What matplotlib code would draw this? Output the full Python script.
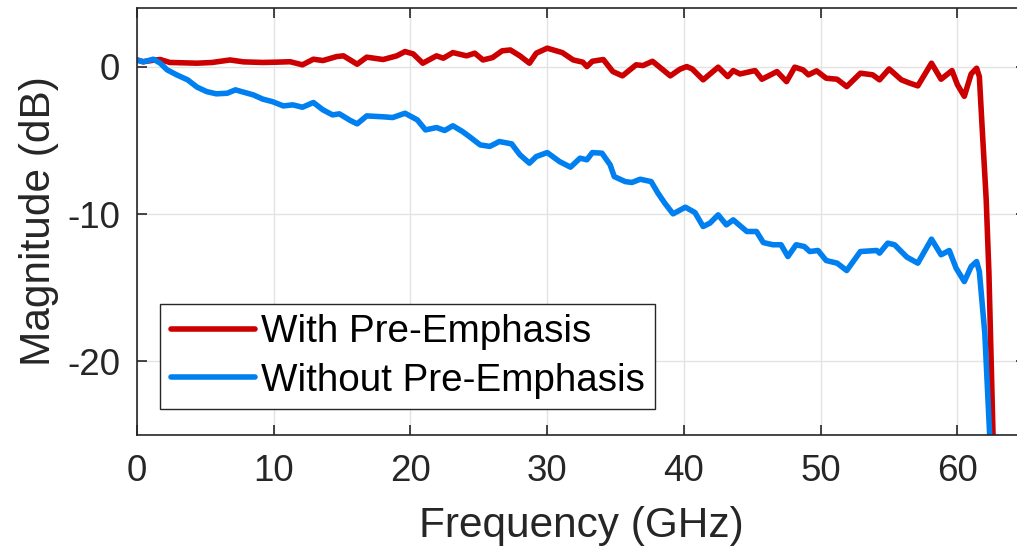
import numpy as np
import matplotlib
matplotlib.use("Agg")
import matplotlib.pyplot as plt

# Frequency response (GHz, dB)
freq_with = [0, 0.45, 1.2, 1.7, 2.4, 3.2, 4.4, 5.5, 6.8, 7.8, 9.2, 10.2, 11.2, 12.1, 12.9,
             13.6, 14.6, 15.1, 16.1, 16.8, 18.0, 19.0, 19.6, 20.2, 20.9, 21.9, 22.4, 23.1,
             24.1, 24.7, 25.3, 26.0, 26.7, 27.3, 28.0, 28.7, 29.2, 30.0, 31.1, 31.9, 32.6,
             32.9, 33.3, 34.1, 34.8, 35.5, 36.5, 37.0, 37.7, 39.0, 39.7, 40.2, 40.6, 41.4,
             42.5, 43.2, 43.6, 44.1, 45.2, 45.7, 46.8, 47.5, 48.1, 48.7, 49.1, 49.7, 50.4,
             51.2, 51.9, 52.9, 53.8, 54.3, 55.0, 55.9, 56.5, 57.1, 58.1, 58.8, 59.6, 60.0,
             60.5, 61.0, 61.4, 61.6, 61.8, 62.1, 62.3, 62.6, 62.7]
mag_with = [0.47, 0.35, 0.45, 0.5, 0.3, 0.28, 0.25, 0.3, 0.47, 0.34, 0.3, 0.32, 0.35, 0.14, 0.52,
            0.43, 0.7, 0.75, 0.18, 0.66, 0.5, 0.75, 1.04, 0.88, 0.25, 0.75, 0.59, 0.97,
            0.75, 0.93, 0.47, 0.63, 1.09, 1.15, 0.75, 0.25, 0.93, 1.27, 0.97, 0.47, 0.32,
            0.02, 0.38, 0.5, -0.32, -0.61, 0.14, 0.09, 0.38, -0.61, -0.16, 0.02, -0.14, -0.88,
            -0.02, -0.66, -0.25, -0.48, -0.25, -0.84, -0.32, -1.0, -0.02, -0.2, -0.54, -0.27, -0.77,
            -0.84, -1.34, -0.43, -0.54, -0.88, -0.14, -0.88, -1.1, -1.29, 0.25, -0.84, -0.25, -1.22,
            -2.0, -0.48, -0.09, -0.66, -4.05, -9.0, -14.0, -25.0, -28.0]

freq_without = [0, 0.45, 1.2, 1.7, 2.2, 2.9, 3.7, 4.4, 5.1, 5.8, 6.6, 7.2, 7.8, 8.5, 9.2,
                9.9, 10.7, 11.4, 12.1, 12.9, 13.6, 14.3, 14.8, 15.6, 16.1, 16.8, 18.0, 18.7,
                19.6, 20.5, 21.1, 21.9, 22.5, 23.1, 23.8, 24.3, 25.1, 25.8, 26.5, 27.4, 28.0,
                28.7, 29.2, 30.0, 30.9, 31.7, 32.4, 32.9, 33.3, 34.0, 34.6, 34.9, 35.7, 36.2,
                36.8, 37.6, 38.1, 38.6, 39.2, 40.1, 40.8, 41.4, 41.9, 42.5, 43.1, 43.6, 44.6,
                45.3, 45.8, 46.5, 47.1, 47.6, 48.2, 48.8, 49.2, 49.8, 50.4, 51.2, 51.9, 52.9,
                54.1, 54.3, 54.9, 55.4, 56.3, 57.1, 58.1, 58.8, 59.4, 59.9, 60.5, 61.0, 61.4,
                61.6, 62.0, 62.35, 62.5]
mag_without = [0.47, 0.34, 0.52, 0.25, -0.2, -0.54, -0.88, -1.38, -1.68, -1.83, -1.79, -1.56, -1.72, -1.9, -2.19,
               -2.36, -2.65, -2.58, -2.74, -2.42, -2.92, -3.26, -3.19, -3.64, -3.87, -3.33, -3.39, -3.44,
               -3.15, -3.6, -4.28, -4.12, -4.32, -4.0, -4.39, -4.73, -5.3, -5.4, -5.07, -5.23, -5.97,
               -6.54, -6.09, -5.82, -6.43, -6.81, -6.2, -6.31, -5.82, -5.86, -6.65, -7.45, -7.79, -7.85,
               -7.63, -7.79, -8.58, -9.26, -9.98, -9.53, -9.89, -10.84, -10.61, -10.05, -10.73, -10.39, -11.18,
               -11.18, -11.93, -12.08, -12.08, -12.88, -12.08, -12.2, -12.54, -12.47, -13.15, -13.33, -13.83, -12.54,
               -12.47, -12.65, -11.97, -12.08, -12.92, -13.33, -11.7, -12.76, -12.47, -13.67, -14.58, -13.56, -13.22,
               -13.9, -18.1, -24.9, -28.0]

x_ticks = [0, 10, 20, 30, 40, 50, 60]
y_ticks = [-20, -10, 0]

plt.rcParams['font.family'] = ['Liberation Sans', 'DejaVu Sans']
plt.rcParams['axes.unicode_minus'] = False

fig = plt.figure(figsize=(10.17, 5.54), dpi=100)
ax = fig.add_axes([0.1347, 0.2148, 0.874, 0.7708])

ax.plot(freq_with, mag_with, color='#cc0000', lw=4.0, label='With Pre-Emphasis',
        solid_joinstyle='round', solid_capstyle='round')
ax.plot(freq_without, mag_without, color='#0080f0', lw=4.0, label='Without Pre-Emphasis',
        solid_joinstyle='round', solid_capstyle='round')

ax.set_xlim(0, 65)
ax.set_ylim(-25, 4)
ax.set_xticks(x_ticks)
ax.set_yticks(y_ticks)
ax.grid(True, color='#e3e3e3', lw=1.0)
ax.set_axisbelow(True)

for s in ax.spines.values():
    s.set_color('#262626')
    s.set_linewidth(1.2)
ax.tick_params(direction='in', length=7, width=1.2, colors='#262626', labelsize=26.5,
               top=True, right=True)
ax.tick_params(axis='x', pad=14)
ax.tick_params(axis='y', pad=12)
ax.set_xlabel('Frequency (GHz)', fontsize=30.5, color='#262626', labelpad=12)
ax.set_ylabel('Magnitude (dB)', fontsize=30.5, color='#262626', labelpad=6)

leg = ax.legend(loc='upper left', bbox_to_anchor=(0.026, 0.307), borderaxespad=0,
                fontsize=27.8, fancybox=False, framealpha=1, edgecolor='#262626',
                handlelength=2.18, handletextpad=0.16, labelspacing=0.32,
                borderpad=0.27)
leg.get_frame().set_linewidth(1.0)

fig.savefig('out.png', dpi=100)
